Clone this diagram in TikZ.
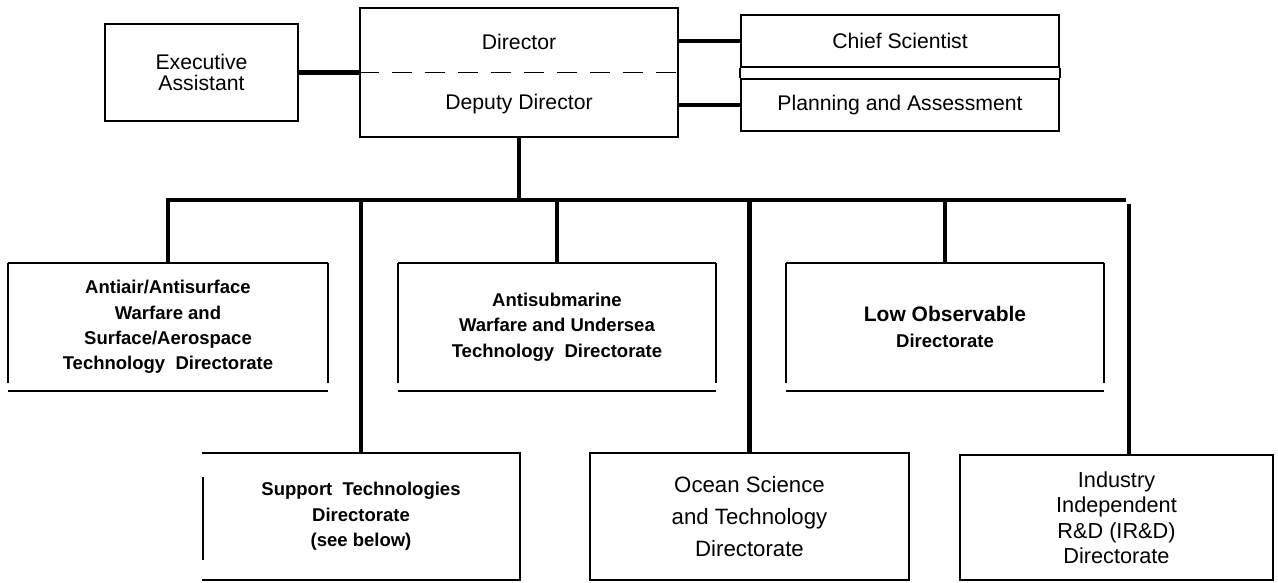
\documentclass[tikz,border=0pt]{standalone}
\usepackage{fontspec}
\setmainfont{Liberation Sans}
\usetikzlibrary{calc}
\begin{document}
\begin{tikzpicture}[x=1pt,y=-1pt,
  box/.style={draw, line width=1.7pt, inner sep=0pt, align=center},
  plainbox/.style={inner sep=0pt, align=center},
  edge/.style={line width=1.7pt},
  conn/.style={line width=4.2pt, line join=miter},
  reg/.style={font=\fontsize{21.2}{21.5}\selectfont},
  boldtxt/.style={font=\bfseries\fontsize{18.5}{25.5}\selectfont},
  ocean/.style={font=\fontsize{22.2}{32}\selectfont},
  irdtxt/.style={font=\fontsize{21.7}{25.5}\selectfont}]
\useasboundingbox (0,0) rectangle (1278,582);

% top row
\node[box, reg, minimum width=193pt, minimum height=97pt] (ea) at (201.5,72.5) {Executive\\Assistant};
\node[box, minimum width=318pt, minimum height=129pt] (dir) at (519,72.5) {};
\node[reg] (dirt) at (519,42) {Director};
\node[reg] (dep) at (519,104) {Deputy Director};
\node[box, reg, minimum width=318pt, minimum height=52pt] (chief) at (900,41) {Chief Scientist};
\node[box, reg, minimum width=318pt, minimum height=52pt] (plan) at (900,105) {Planning and Assessment};
\draw[edge] (chief.south west) -- (plan.north west);
\draw[edge] (chief.south east) -- (plan.north east);
\draw[line width=1.5pt, dash pattern=on 20pt off 13pt] (dir.west) -- (dir.east);

% middle row
\node[plainbox, boldtxt, minimum width=320pt, minimum height=128pt] (aa) at (168,327)
  {Antiair/Antisurface\\Warfare and\\Surface/Aerospace\\Technology~~Directorate};
\node[plainbox, boldtxt, minimum width=318pt, minimum height=128pt] (asw) at (557,327)
  {Antisubmarine\\Warfare and Undersea\\Technology~~Directorate};
\node[plainbox, boldtxt, minimum width=318pt, minimum height=128pt] (lo) at (945,327)
  {{\fontsize{21}{25.5}\selectfont Low Observable}\\Directorate};
\foreach \n in {aa,asw,lo}{
  \draw[edge] (\n.north west) -- (\n.north east);
  \draw[edge] (\n.north west) -- ($(\n.south west)+(0,-8)$);
  \draw[edge] (\n.north east) -- ($(\n.south east)+(0,-8)$);
  \draw[edge] (\n.south west) -- (\n.south east);
}

% bottom row
\node[plainbox, boldtxt, minimum width=318pt, minimum height=127pt] (sup) at (361,516.5)
  {Support~~Technologies\\Directorate\\(see below)};
\draw[edge] (sup.north west) -- (sup.north east) -- (sup.south east) -- (sup.south west);
\draw[edge] ($(sup.north west)+(1,24)$) -- ($(sup.south west)+(1,-20)$);
\node[box, ocean, minimum width=319pt, minimum height=127pt] (oce) at (749.5,516.5)
  {Ocean Science\\and Technology\\Directorate};
\node[box, irdtxt, minimum width=313pt, minimum height=125pt] (ird) at (1116.5,517.5)
  {Industry\\Independent\\R\&D (IR\&D)\\Directorate};

% connectors
\coordinate (busL) at (168,200);
\coordinate (busR) at (1126,200);
\coordinate (rv) at (1129,204);
\draw[conn] (ea.east) -- (dir.west);
\draw[conn] (dir.east |- chief.west) -- (chief.west);
\draw[conn] (dir.east |- plan.west) -- (plan.west);
\draw[conn] (dir.south) -- (dir.south |- busL);
\draw[conn] (aa.north) -- (busL) -- (busR);
\draw[conn] (sup.north |- busL) -- (sup.north);
\draw[conn] (asw.north |- busL) -- (asw.north);
\draw[conn] (oce.north |- busL) -- (oce.north);
\draw[conn] (lo.north |- busL) -- (lo.north);
\draw[conn] (rv) -- (rv |- ird.north);
\end{tikzpicture}
\end{document}
